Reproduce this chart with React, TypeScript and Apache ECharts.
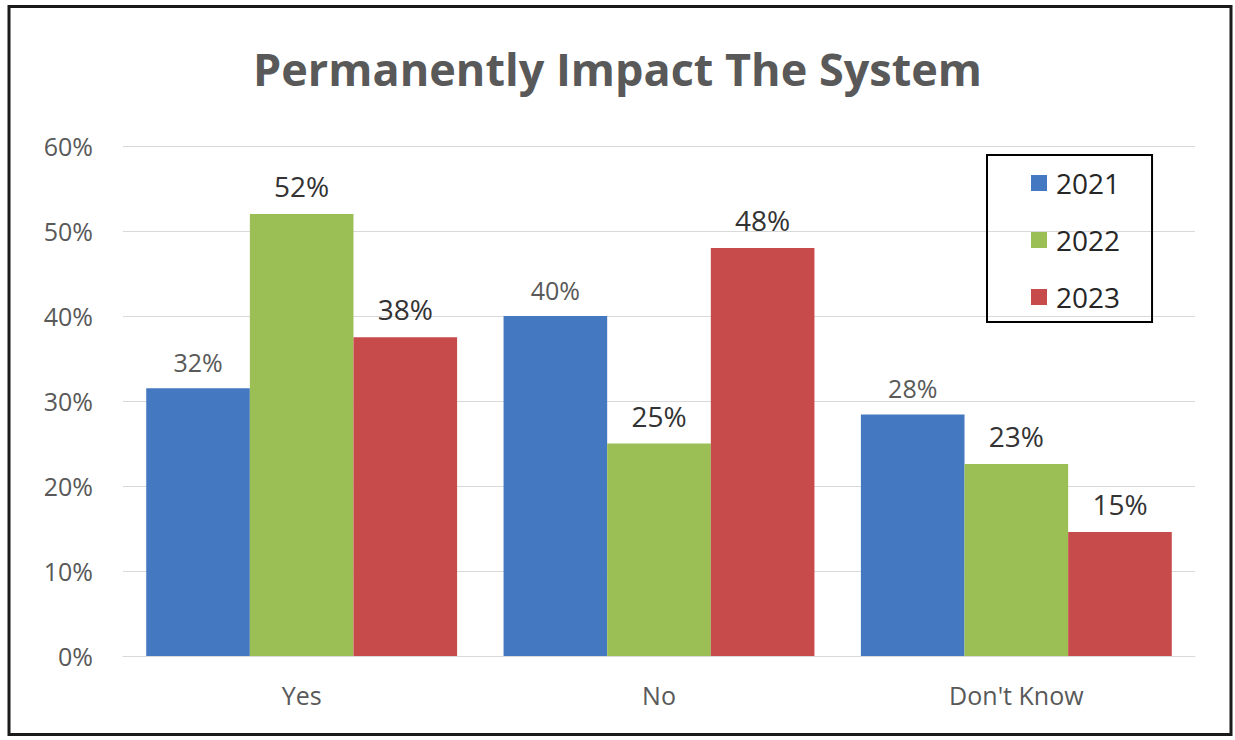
import React, { useEffect, useRef } from "react";
import * as echarts from "echarts";

const categories = ["Yes", "No", "Don't Know"];
const seriesNames = ["2021", "2022", "2023"];
const values2021 = [0.315, 0.40, 0.284];
const values2022 = [0.52, 0.25, 0.226];
const values2023 = [0.375, 0.48, 0.146];
const yTicks = [0, 0.1, 0.2, 0.3, 0.4, 0.5, 0.6];
const colors = ["#4479c1", "#9bbf55", "#c64b4a"];

export default function App() {
  const ref = useRef<HTMLDivElement>(null);
  useEffect(() => {
    if (!ref.current) return;
    const chart = echarts.init(ref.current, null, { renderer: "svg" });
    const font = "Open Sans";
    const data = [values2021, values2022, values2023];
    chart.setOption({
      animation: false,
      backgroundColor: "#ffffff",
      title: {
        text: "Permanently Impact The System",
        left: "center",
        top: 41,
        textStyle: { fontFamily: font, fontWeight: "bold", fontSize: 45, color: "#595959" },
      },
      legend: {
        orient: "vertical",
        left: 987,
        top: 155,
        data: seriesNames,
        itemWidth: 16,
        itemHeight: 16,
        itemGap: 29,
        icon: "rect",
        borderColor: "#000000",
        borderWidth: 2,
        padding: [14, 32, 11, 44],
        textStyle: { fontFamily: font, fontSize: 28, color: "#262626", padding: [0, 0, 0, 4] },
      },
      grid: { left: 123, right: 40, top: 146, bottom: 84, containLabel: false },
      xAxis: {
        type: "category",
        data: categories,
        axisLine: { show: true, lineStyle: { color: "#d9d9d9", width: 1 } },
        axisTick: { show: false },
        axisLabel: { fontFamily: font, fontSize: 25, color: "#595959", margin: 26 },
      },
      yAxis: {
        type: "value",
        min: yTicks[0],
        max: yTicks[yTicks.length - 1],
        interval: 0.1,
        axisLine: { show: false },
        axisTick: { show: false },
        splitLine: { lineStyle: { color: "#d9d9d9", width: 1 } },
        axisLabel: {
          fontFamily: font,
          fontSize: 25,
          color: "#595959",
          margin: 30,
          formatter: (v: number) => Math.round(v * 100) + "%",
        },
      },
      graphic: [
        {
          type: "rect",
          shape: { x: 9, y: 6.5, width: 1222, height: 728 },
          style: { fill: "none", stroke: "#1a1a1a", lineWidth: 3 },
          silent: true,
        },
      ],
      series: seriesNames.map((name, i) => ({
        name,
        type: "bar",
        data: data[i],
        barGap: "0%",
        barCategoryGap: "13%",
        itemStyle: { color: colors[i] },
        label: {
          show: true,
          position: "top",
          distance: 14,
          fontFamily: font,
          fontSize: i === 0 ? 25 : 28,
          color: i === 0 ? "#595959" : "#333333",
          formatter: (p: any) => Math.round(p.value * 100) + "%",
        },
      })),
    });
    return () => chart.dispose();
  }, []);
  return (
    <div
      ref={ref}
      style={{ position: "fixed", left: 0, top: 0, width: 1235, height: 740 }}
    />
  );
}
